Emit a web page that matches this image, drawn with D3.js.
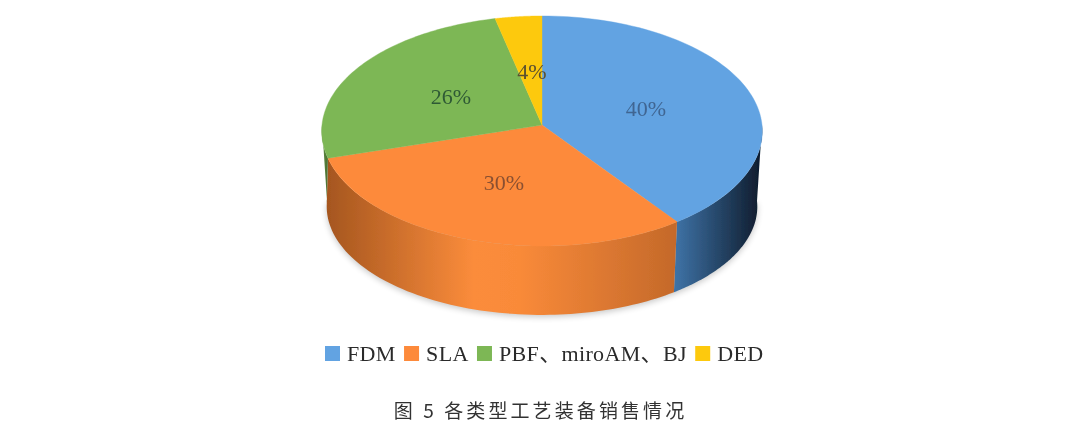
<!DOCTYPE html>
<html><head><meta charset="utf-8">
<script src="https://cdn.jsdelivr.net/npm/d3@7/dist/d3.min.js"></script>
<style>html,body{margin:0;padding:0;background:#fff;overflow:hidden}svg{display:block}</style>
</head><body><svg id="c" width="1080" height="424"></svg>
<script>
const categories = ["FDM","SLA","PBF、miroAM、BJ","DED"];
const shares = [40,30.4,26,3.6];
const topColors = ["#62a3e2","#fd8a3a","#7db755","#fdc90f"];
const sideStops = [
  [[0,"#3f74a8"],[1,"#0e1a2b"]],
  [[0,"#a5561f"],[.42,"#fb8c3b"],[.55,"#f98a39"],[1,"#c4692a"]],
  [[0,"#5d8c40"],[1,"#4a6f33"]],
  [[0,"#fdc90f"],[1,"#fdc90f"]]
];
const labelColors = ["#3f6592","#8a5030","#2f5a35","#5a5030"];
const labelAnchors = [[104,-17],[-38,57],[-91,-29],[-10,-54]];
const title = "图 5 各类型工艺装备销售情况";

const svg = d3.select("#c");
const CX = 542, k = .052;
const topPlane = {x:d3.scaleLinear().domain([0,1]).range([CX,CX+220]), y:d3.scaleLinear().domain([0,1]).range([125,125-114.7])};
const botPlane = {x:d3.scaleLinear().domain([0,1]).range([CX,CX+215]), y:d3.scaleLinear().domain([0,1]).range([201,201-108])};
const proj = (p,a,r=1)=>{const u=r*Math.sin(a),v=r*Math.cos(a),d=1+k*v;return [p.x(u/d),p.y(v/d)];};
const pie = d3.pie().sort(null).value(d=>d)(shares);
const sample=(a0,a1)=>d3.range(0,1.0001,1/80).map(t=>a0+(a1-a0)*t);
const line=d3.line();

const defs=svg.append("defs");
defs.append("filter").attr("id","soft").attr("x","-5%").attr("y","-5%").attr("width","110%").attr("height","110%")
  .append("feGaussianBlur").attr("stdDeviation",.45);
defs.append("filter").attr("id","shadow").attr("x","-10%").attr("y","-20%").attr("width","120%").attr("height","140%")
  .append("feGaussianBlur").attr("stdDeviation",3);

const g=svg.append("g").attr("filter","url(#soft)");

const frontA=Math.PI*.5, frontB=Math.PI*1.5;
// the seam at the left runs straight down to the silhouette of the lower rim
const seamAngle=pie[1].endAngle;
const bottomAngle=d3.scaleLinear().domain([frontA,Math.PI,seamAngle,frontB])
  .range([frontA,Math.PI,Math.PI*1.485,frontB]);

// soft shadow under the disc
g.append("path").attr("filter","url(#shadow)").attr("fill","#000").attr("opacity",.22)
 .attr("d",line(sample(frontA,frontB).map(a=>{const q=proj(botPlane,a);return [q[0],q[1]+2];}))+"Z");

// side walls (only the front half is visible)
pie.forEach((s,i)=>{
  const a0=Math.max(s.startAngle,frontA), a1=Math.min(s.endAngle,frontB);
  if(a1<=a0) return;
  const top=sample(a0,a1).map(a=>proj(topPlane,a));
  const bot=sample(a0,a1).map(a=>proj(botPlane,bottomAngle(a))).reverse();
  const xs=top.concat(bot).map(q=>q[0]);
  const id="side"+i;
  const lg=defs.append("linearGradient").attr("id",id).attr("gradientUnits","userSpaceOnUse")
    .attr("x1",d3.min(xs)).attr("x2",d3.max(xs)).attr("y1",0).attr("y2",0);
  sideStops[i].forEach(st=>lg.append("stop").attr("offset",st[0]).attr("stop-color",st[1]));
  g.append("path").attr("d",line(top.concat(bot))+"Z").attr("fill",`url(#${id})`);
});

// top face
pie.forEach((s,i)=>{
  const pts=[proj(topPlane,0,0)].concat(sample(s.startAngle,s.endAngle).map(a=>proj(topPlane,a)));
  g.append("path").attr("d",line(pts)+"Z").attr("fill",topColors[i]).attr("stroke",topColors[i]).attr("stroke-width",.4);
});

// data labels
const serif='"Liberation Serif","Noto Sans CJK SC",serif';
pie.forEach((s,i)=>{
  g.append("text").attr("x",CX+labelAnchors[i][0]).attr("y",125+labelAnchors[i][1]+8)
   .attr("text-anchor","middle").attr("font-family",serif).attr("font-size",22)
   .attr("fill",labelColors[i]).text(Math.round(s.data)+"%");
});

// legend
let lx=325;
categories.forEach((c,i)=>{
  g.append("rect").attr("x",lx).attr("y",346).attr("width",15).attr("height",15).attr("fill",topColors[i]);
  const t=g.append("text").attr("x",lx+22).attr("y",361).attr("font-family",serif).attr("font-size",22)
    .attr("letter-spacing",.35).attr("fill","#2b2b2b").text(c);
  lx+=22+t.node().getComputedTextLength()+8.3;
});

// caption
g.append("text").attr("x",540.5).attr("y",418.4).attr("text-anchor","middle")
 .attr("font-family",'"Noto Sans CJK SC",sans-serif').attr("font-weight",400).attr("font-size",19).attr("letter-spacing",3.1)
 .attr("fill","#333").text(title);
</script></body></html>
